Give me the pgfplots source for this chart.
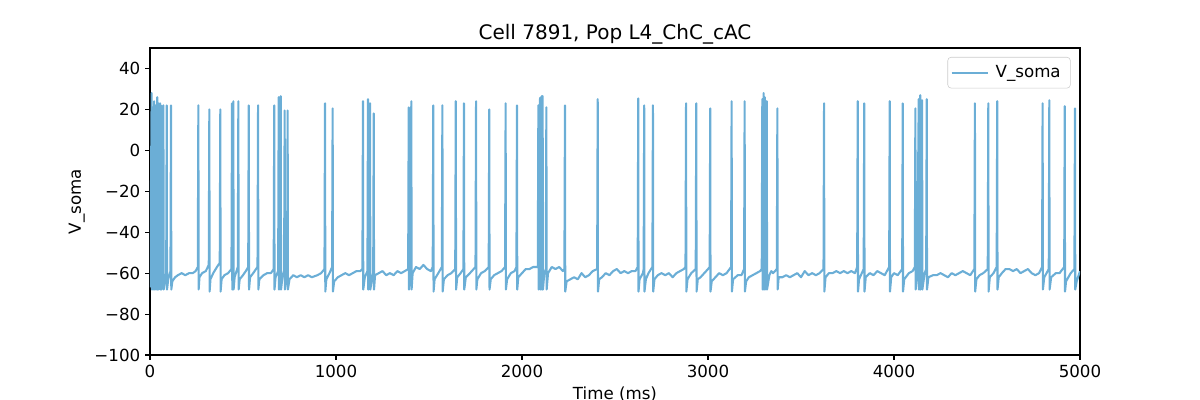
\documentclass[border=0pt]{standalone}
\usepackage{pgfplots}
\pgfplotsset{compat=1.18}
\usepackage{fontspec}
\setmainfont{DejaVu Sans}
\definecolor{trace}{HTML}{6BAED6}
\pgfplotstableread{
t v
0 -67
2 -60
9 28
10.5 -68
13 -60
15 21
16.5 -68
19 -60
22 24
23.5 -68
28 -60
31 22
32.5 -68
36 -60
39 26
40.5 -68
43 -60
45 23
46.5 -68
51 -60
54 23
55.5 -68
57 -60
59 22
60.5 -68
69 -60
72 22
73.5 -68
87 -60
90 22
91.5 -68
98 -63
110 -59
113 22
114.5 -68
120 -64
135 -62
150 -61
170 -60
190 -61
210 -60
230 -60
245 -59
257 -57
260 22
261.5 -68
266 -62
280 -60
300 -59
316 -56
319 20
320.5 -69
325 -63
340 -60
360 -57
375 -55
378 20
379.5 -69
385 -63
400 -61
420 -60
438 -58
441 23
442.5 -68
445 -60
448 24
449.5 -68
455 -62
472 -57
475 24
476.5 -68
482 -63
500 -61
515 -59
528 -57
531 22
532.5 -68
538 -62
555 -60
570 -58
578 -57
581 22
582.5 -68
588 -63
610 -61
630 -60
650 -60
665 -58
668 22
669.5 -68
675 -62
689 -59
692 26
693.5 -68
700 -60
703 26.5
704.5 -68
712 -62
721 -59
724 19.5
725.5 -68
733 -62
737 -59
740 19.5
741.5 -68
750 -63
770 -61
790 -62
810 -61
830 -62
850 -61
870 -62
900 -61
920 -60
938 -58
941 23
942.5 -69
948 -63
965 -60
979 -57
982 20.5
983.5 -69
990 -64
1010 -62
1030 -61
1050 -60
1070 -61
1090 -60
1110 -59
1130 -59
1142 -58
1145 24
1146.5 -68
1155 -62
1169 -59
1172 25
1173.5 -68
1180 -61
1183 23
1184.5 -68
1195 -62
1200 -60
1203 18
1204.5 -68
1210 -61
1230 -60
1250 -59
1270 -61
1290 -60
1310 -61
1330 -59
1350 -60
1370 -59
1388 -58
1391 21
1392.5 -68
1398 -60
1405 24
1406.5 -68
1412 -60
1430 -57
1450 -58
1470 -56
1490 -58
1510 -59
1520 -57
1523 22
1524.5 -69
1530 -63
1550 -60
1569 -57
1572 22
1573.5 -69
1580 -63
1600 -61
1620 -60
1641 -58
1644 24
1645.5 -68
1652 -62
1670 -60
1685 -58
1688 23
1689.5 -68
1698 -62
1720 -60
1740 -58
1750 -57
1753 24
1754.5 -68
1760 -63
1780 -60
1800 -59
1821 -57
1824 20
1825.5 -68
1832 -63
1850 -61
1870 -60
1890 -59
1909 -57
1912 23
1913.5 -68
1920 -63
1940 -60
1960 -59
1970 -57
1973 22
1974.5 -68
1980 -62
2000 -60
2020 -58
2040 -58
2060 -57
2085 -57
2088 22
2089.5 -68
2094 -60
2097 25.7
2098.5 -68
2103 -60
2106 26.5
2107.5 -68
2109 -62
2111 26.5
2112.5 -68
2120 -60
2128 -58
2131 21
2132.5 -68
2140 -60
2160 -57
2180 -58
2200 -57
2220 -59
2228 -58
2231 22
2232.5 -69
2240 -64
2260 -63
2280 -62
2300 -63
2320 -60
2340 -62
2360 -61
2380 -59
2404 -58
2407 25
2408.5 -69
2415 -63
2430 -62
2450 -60
2470 -61
2490 -59
2510 -58
2530 -60
2550 -59
2570 -60
2590 -59
2610 -59
2622 -57
2625 25.4
2626.5 -69
2632 -63
2650 -60
2654 -58
2657 22
2658.5 -69
2666 -63
2680 -60
2701 -57
2704 22
2705.5 -69
2712 -63
2730 -61
2750 -60
2770 -61
2790 -60
2810 -62
2830 -60
2850 -59
2870 -58
2879 -57
2882 23
2883.5 -69
2890 -63
2910 -60
2934 -58
2937 23
2938.5 -69
2945 -63
2960 -62
2980 -60
3000 -58
3009 -57
3012 20.5
3013.5 -69
3020 -64
3040 -62
3060 -60
3080 -61
3100 -60
3124 -57
3127 24
3128.5 -69
3135 -63
3160 -61
3180 -61
3194 -58
3197 24
3198.5 -69
3205 -64
3220 -62
3240 -61
3260 -60
3280 -59
3289 -58
3292 25
3293.5 -68
3297 -61
3299 28
3300.5 -68
3303 -61
3305 26
3306.5 -68
3312 -60
3316 24
3317.5 -68
3330 -61
3340 -59
3350 -60
3370 -58
3373 20.5
3374.5 -68
3380 -62
3400 -62
3420 -61
3440 -62
3460 -61
3480 -60
3500 -62
3520 -59
3540 -61
3560 -60
3580 -61
3600 -60
3621 -58
3624 23
3625.5 -69
3632 -62
3650 -60
3670 -60
3690 -59
3710 -60
3730 -59
3750 -60
3770 -59
3790 -60
3802 -57
3805 24
3806.5 -69
3812 -63
3837 -58
3840 23
3841.5 -69
3848 -62
3870 -60
3890 -61
3910 -59
3930 -60
3950 -61
3974 -57
3977 24
3978.5 -69
3985 -62
4000 -60
4020 -61
4044 -58
4047 23
4048.5 -69
4055 -63
4080 -60
4100 -59
4112 -57
4115 20.5
4116.5 -68
4125 -60
4133 25
4134.5 -68
4138 -61
4141 27
4142.5 -68
4148 -61
4151 24.5
4152.5 -68
4165 -60
4173 -58
4176 25
4177.5 -68
4185 -62
4210 -61
4230 -61
4250 -60
4270 -61
4290 -62
4310 -60
4330 -61
4350 -60
4370 -59
4390 -60
4410 -61
4432 -58
4435 23
4436.5 -69
4443 -63
4460 -61
4480 -60
4504 -58
4507 23
4508.5 -69
4515 -62
4535 -60
4552 -57
4555 24
4556.5 -68
4563 -62
4580 -60
4600 -58
4620 -58
4640 -59
4660 -58
4680 -60
4700 -59
4720 -58
4740 -60
4760 -61
4780 -60
4796 -57
4799 23
4800.5 -68
4808 -62
4832 -58
4835 24.5
4836.5 -68
4845 -62
4870 -60
4890 -60
4915 -57
4918 21.6
4919.5 -69
4925 -64
4950 -60
4970 -58
4973 20.5
4974.5 -68
4982 -64
5000 -59
}\vsoma
\begin{document}
\begin{tikzpicture}
\path[use as bounding box] (-108pt,-32.4pt) rectangle (756pt,255.6pt);
\begin{axis}[
  at={(0pt,0pt)}, anchor=south west,
  width=669.6pt, height=221pt, scale only axis,
  xmin=0, xmax=5000, ymin=-100, ymax=50,
  xtick={0,1000,2000,3000,4000,5000},
  xticklabels={0,1000,2000,3000,4000,5000},
  ytick={-100,-80,-60,-40,-20,0,20,40},
  yticklabels={−100,−80,−60,−40,−20,0,20,40},
  tick pos=left, tick align=outside,
  major tick length=3.5pt,
  every tick/.style={black, line width=0.8pt},
  axis line style={line width=0.8pt},
  tick label style={font=\fontsize{12}{14}\selectfont},
  label style={font=\fontsize{12}{14}\selectfont},
  title style={font=\fontsize{14.4}{17}\selectfont, at={(0.5,1)}, anchor=base, yshift=0pt},
  title={Cell 7891, Pop L4\_ChC\_cAC},
  xlabel={Time (ms)},
  ylabel={V\_soma},
  legend style={at={(0.990,0.971)}, anchor=north east, draw=black!20, rounded corners=2.5pt,
    font=\fontsize{12}{14}\selectfont, inner xsep=2pt, inner ysep=4pt,
    nodes={inner xsep=5pt, inner ysep=2pt}},
  legend cell align=left,
  legend image code/.code={\draw[#1] (0pt,0pt) -- (26pt,0pt);},
]
\addplot[color=trace, line width=1.5pt, line join=round] table[x=t, y=v] {\vsoma};
\addlegendentry{V\_soma}
\end{axis}
\end{tikzpicture}
\end{document}
